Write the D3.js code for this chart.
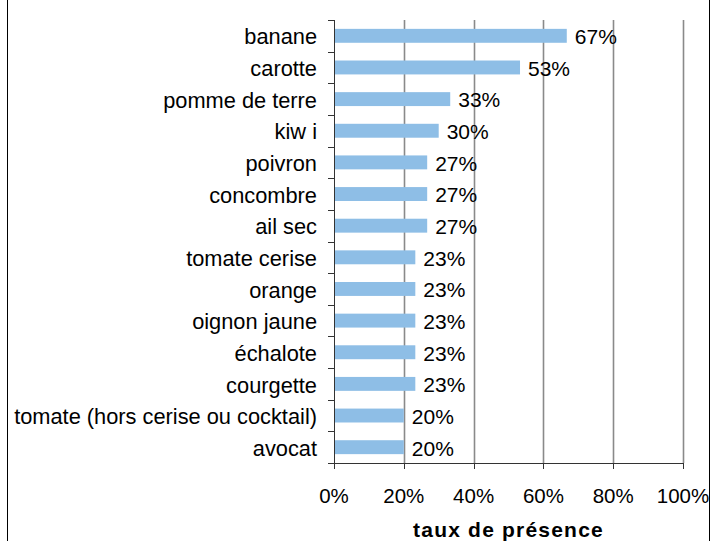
<!DOCTYPE html>
<html>
<head>
<meta charset="utf-8">
<script src="https://cdn.jsdelivr.net/npm/d3@7"></script>
<style>
  body { margin: 0; background: #fff; }
  svg text { font-family: "Liberation Sans", Arial, sans-serif; fill: #000; }
</style>
</head>
<body>
<svg id="chart" width="713" height="541"></svg>
<script>
'use strict';

// categories top to bottom
var categories = [
  'banane', 'carotte', 'pomme de terre', 'kiw i', 'poivron', 'concombre',
  'ail sec', 'tomate cerise', 'orange', 'oignon jaune', '\u00e9chalote',
  'courgette', 'tomate (hors cerise ou cocktail)', 'avocat'
];
// share of presence
var values = [0.667, 0.533, 0.333, 0.30, 0.267, 0.267, 0.267,
  0.233, 0.233, 0.233, 0.233, 0.233, 0.20, 0.20];
var xTicks = [0, 0.2, 0.4, 0.6, 0.8, 1];
var xTitle = 'taux de pr\u00e9sence';

var svg = d3.select('#chart');
var margin = { left: 334, right: 30, top: 20, bottom: 78 };
var width = 713 - margin.left - margin.right;
var height = 541 - margin.top - margin.bottom;

// outer frame (only the sides show)
svg.append('line').attr('x1', 7.5).attr('x2', 7.5).attr('y1', 0).attr('y2', 541)
  .attr('stroke', '#000').attr('stroke-width', 1);
svg.append('line').attr('x1', 709.5).attr('x2', 709.5).attr('y1', 0).attr('y2', 541)
  .attr('stroke', '#000').attr('stroke-width', 1);

var g = svg.append('g').attr('transform', 'translate(' + margin.left + ',' + margin.top + ')');

var x = d3.scaleLinear().domain([0, 1]).range([0, width]);
var y = d3.scaleBand().domain(categories).range([0, height]).paddingInner(0.56).paddingOuter(0.28);

// gridlines
g.selectAll('line.grid')
  .data(xTicks.slice(1))
  .enter().append('line')
  .attr('class', 'grid')
  .attr('x1', function (d) { return Math.round(x(d)) + 0.5; })
  .attr('x2', function (d) { return Math.round(x(d)) + 0.5; })
  .attr('y1', 0).attr('y2', height)
  .attr('stroke', '#8a8a8a').attr('stroke-width', 1.6);

// bars
g.selectAll('rect.bar')
  .data(values)
  .enter().append('rect')
  .attr('class', 'bar')
  .attr('x', 0)
  .attr('y', function (d, i) { return y(categories[i]); })
  .attr('width', function (d) { return x(d); })
  .attr('height', y.bandwidth())
  .attr('fill', '#8ebee6');

// value labels
g.selectAll('text.val')
  .data(values)
  .enter().append('text')
  .attr('class', 'val')
  .attr('x', function (d) { return x(d) + 8; })
  .attr('y', function (d, i) { return y(categories[i]) + y.bandwidth() / 2 + 1; })
  .attr('dy', '0.35em')
  .style('font-size', '21px')
  .text(function (d) { return Math.round(d * 100) + '%'; });

// y axis
var step = y.step();
var yAxis = g.append('g');
yAxis.append('line').attr('x1', 0.5).attr('x2', 0.5).attr('y1', 0).attr('y2', height)
  .attr('stroke', '#333');
d3.range(categories.length + 1).forEach(function (i) {
  var yy = Math.round(i * step) + 0.5;
  yAxis.append('line').attr('x1', -6).attr('x2', 0).attr('y1', yy).attr('y2', yy).attr('stroke', '#333');
});
yAxis.selectAll('text')
  .data(categories)
  .enter().append('text')
  .attr('x', -17)
  .attr('y', function (d) { return y(d) + y.bandwidth() / 2 + 1; })
  .attr('dy', '0.35em')
  .attr('text-anchor', 'end')
  .style('font-size', '21.8px')
  .text(function (d) { return d; });

// x axis
var xAxis = g.append('g').attr('transform', 'translate(0,' + height + ')');
xAxis.append('line').attr('x1', 0).attr('x2', width).attr('y1', 0.5).attr('y2', 0.5).attr('stroke', '#333');
xAxis.selectAll('line.tick')
  .data(xTicks)
  .enter().append('line')
  .attr('class', 'tick')
  .attr('x1', function (d) { return Math.round(x(d)) + 0.5; })
  .attr('x2', function (d) { return Math.round(x(d)) + 0.5; })
  .attr('y1', 0).attr('y2', 6)
  .attr('stroke', '#333');
xAxis.selectAll('text')
  .data(xTicks)
  .enter().append('text')
  .attr('x', function (d) { return x(d); })
  .attr('y', 33)
  .attr('dy', '0.35em')
  .attr('text-anchor', 'middle')
  .style('font-size', '20.5px')
  .text(d3.format('.0%'));

svg.append('text')
  .attr('x', margin.left + width / 2)
  .attr('y', 537)
  .attr('text-anchor', 'middle')
  .style('font-size', '21px')
  .style('font-weight', 'bold')
  .style('letter-spacing', '1.2px')
  .text(xTitle);
</script>
</body>
</html>
